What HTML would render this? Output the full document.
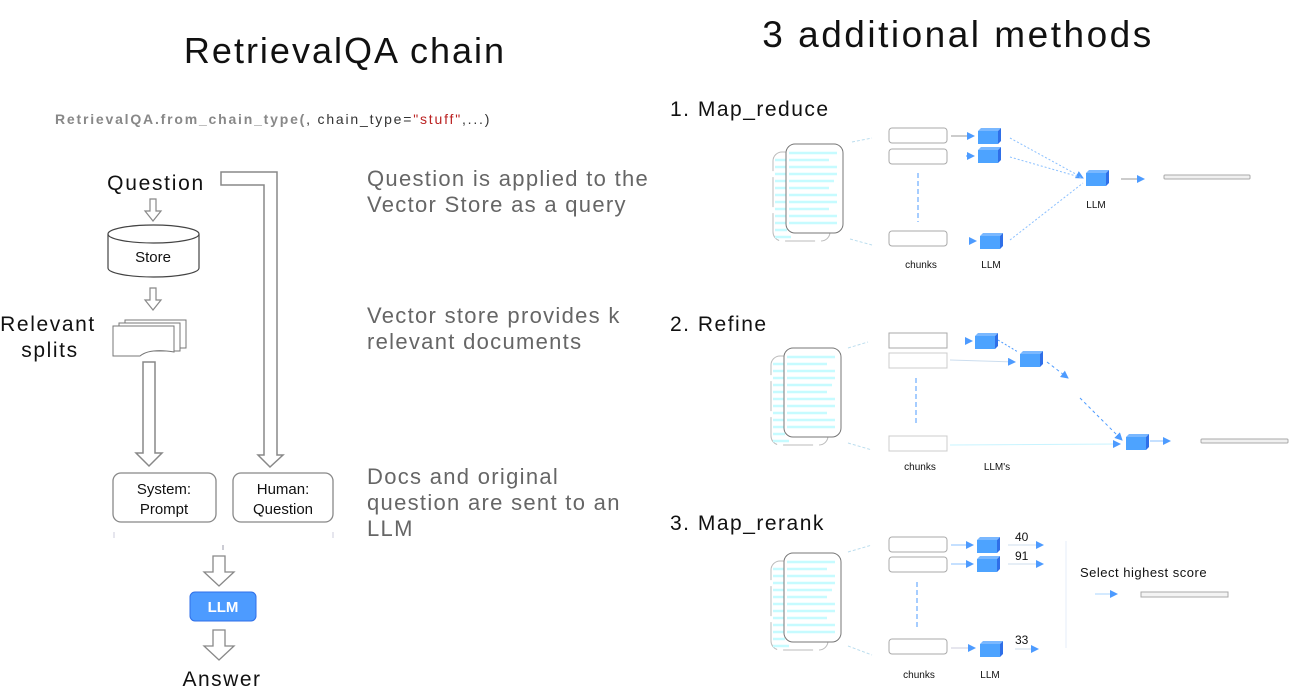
<!DOCTYPE html>
<html><head><meta charset="utf-8"><style>
html,body{margin:0;padding:0;background:#fff;}
svg{display:block;font-family:"Liberation Sans",sans-serif;}
</style></head><body>
<svg width="1294" height="698" viewBox="0 0 1294 698" xmlns="http://www.w3.org/2000/svg">
<defs>
<g id="doc">
  <rect x="0" y="8" width="57" height="89" rx="9" fill="#fff" stroke="#bbb" stroke-width="1" stroke-dasharray="30 6"/>
  <g stroke="#c6fbff" stroke-width="2.5">
    <line x1="2" y1="16" x2="14" y2="16"/><line x1="2" y1="23" x2="14" y2="23"/><line x1="2" y1="30" x2="14" y2="30"/><line x1="2" y1="37" x2="14" y2="37"/><line x1="2" y1="44" x2="14" y2="44"/><line x1="2" y1="51" x2="14" y2="51"/><line x1="2" y1="58" x2="14" y2="58"/><line x1="2" y1="65" x2="14" y2="65"/><line x1="2" y1="72" x2="14" y2="72"/><line x1="2" y1="79" x2="14" y2="79"/><line x1="2" y1="86" x2="14" y2="86"/><line x1="2" y1="93" x2="18" y2="93"/>
  </g>
  <rect x="13" y="0" width="57" height="89" rx="9" fill="#fff" stroke="#777" stroke-width="1"/>
  <g stroke="#c6fbff" stroke-width="2.5">
    <line x1="16" y1="9" x2="64" y2="9"/><line x1="16" y1="16" x2="56" y2="16"/><line x1="16" y1="23" x2="64" y2="23"/><line x1="16" y1="30" x2="64" y2="30"/><line x1="16" y1="37" x2="61" y2="37"/><line x1="16" y1="44" x2="56" y2="44"/><line x1="16" y1="51" x2="64" y2="51"/><line x1="16" y1="58" x2="64" y2="58"/><line x1="16" y1="65" x2="56" y2="65"/><line x1="16" y1="72" x2="64" y2="72"/><line x1="16" y1="79" x2="64" y2="79"/>
  </g>
</g>
<g id="cube">
  <polygon points="0,3 3,0 23,0 20,3" fill="#7ab8ff"/>
  <polygon points="20,3 23,0 23,13 20,16" fill="#2f6fe8"/>
  <rect x="0" y="3" width="20" height="13" fill="#4da3ff"/>
</g>
<g id="chunk"><rect x="0" y="0" width="58" height="15" rx="3" fill="#fff" stroke="#aaa"/></g>
<marker id="ah" markerWidth="8" markerHeight="8" refX="7" refY="4" orient="auto" markerUnits="userSpaceOnUse"><path d="M0,0 L8,4 L0,8z" fill="#4d9bff"/></marker>
</defs>

<!-- Titles -->
<text x="345" y="63" font-size="36" letter-spacing="2" text-anchor="middle" fill="#111">RetrievalQA chain</text>
<text x="958" y="47" font-size="37" letter-spacing="2.5" text-anchor="middle" fill="#111">3 additional methods</text>

<text x="55" y="124" font-size="14" letter-spacing="1.8"><tspan font-weight="bold" fill="#888">RetrievalQA.from_chain_type(</tspan><tspan fill="#333">, chain_type=</tspan><tspan fill="#b22">"stuff"</tspan><tspan fill="#333">,...)</tspan></text>

<!-- Left flow -->
<text x="156" y="190" font-size="21" letter-spacing="1.7" text-anchor="middle" fill="#111">Question</text>
<path d="M221,172 L277,172 L277,455 L283,455 L270,467 L258,455 L264,455 L264,185 L221,185 Z" fill="#fff" stroke="#888" stroke-width="1.5"/>
<path d="M150,199 L156,199 L156,211 L161,211 L153,221 L145,211 L150,211 Z" fill="#fff" stroke="#888" stroke-width="1.2"/>
<path d="M108,234 L108,268 A45.5,9 0 0 0 199,268 L199,234" fill="#fff" stroke="#444" stroke-width="1.2"/>
<ellipse cx="153.5" cy="234" rx="45.5" ry="9" fill="#fff" stroke="#444" stroke-width="1.2"/>
<text x="153" y="262" font-size="15" text-anchor="middle" fill="#111">Store</text>
<path d="M150,288 L156,288 L156,300 L161,300 L153,310 L145,300 L150,300 Z" fill="#fff" stroke="#888" stroke-width="1.2"/>
<path d="M125,320 L186,320 L186,348 L125,348Z" fill="#fff" stroke="#777"/>
<path d="M119,323 L180,323 L180,351 L119,351Z" fill="#fff" stroke="#777"/>
<path d="M113,326 L174,326 L174,352 Q150,348 140,356 L113,356Z" fill="#fff" stroke="#777"/>
<text x="48" y="331" font-size="21" letter-spacing="1.6" text-anchor="middle" fill="#111">Relevant</text>
<text x="50" y="357" font-size="21" letter-spacing="1.6" text-anchor="middle" fill="#111">splits</text>
<path d="M143,362 L155,362 L155,453 L162,453 L149,466 L136,453 L143,453 Z" fill="#fff" stroke="#888" stroke-width="1.5"/>
<rect x="113" y="473" width="103" height="49" rx="8" fill="#fff" stroke="#888" stroke-width="1.3"/>
<text x="164" y="494" font-size="15" text-anchor="middle" fill="#111">System:</text>
<text x="164" y="514" font-size="15" text-anchor="middle" fill="#111">Prompt</text>
<rect x="233" y="473" width="100" height="49" rx="8" fill="#fff" stroke="#888" stroke-width="1.3"/>
<text x="283" y="494" font-size="15" text-anchor="middle" fill="#111">Human:</text>
<text x="283" y="514" font-size="15" text-anchor="middle" fill="#111">Question</text>
<line x1="114" y1="532" x2="114" y2="538" stroke="#ccd" /><line x1="333" y1="532" x2="333" y2="538" stroke="#ccd"/><line x1="223" y1="545" x2="223" y2="550" stroke="#99a"/>
<path d="M213,556 L225,556 L225,572 L234,572 L219,586 L204,572 L213,572 Z" fill="#fff" stroke="#888" stroke-width="1.3"/>
<rect x="190" y="592" width="66" height="29" rx="5" fill="#4d9bff" stroke="#2f6fe8"/>
<text x="223" y="612" font-size="15" font-weight="bold" text-anchor="middle" fill="#fff">LLM</text>
<path d="M213,630 L225,630 L225,646 L234,646 L219,660 L204,646 L213,646 Z" fill="#fff" stroke="#888" stroke-width="1.3"/>
<text x="222" y="686" font-size="21" letter-spacing="1.5" text-anchor="middle" fill="#111">Answer</text>

<!-- Middle descriptions -->
<g font-size="22" letter-spacing="1.3" fill="#666">
<text x="367" y="186">Question is applied to the</text>
<text x="367" y="212">Vector Store as a query</text>
<text x="367" y="323">Vector store provides k</text>
<text x="367" y="349">relevant documents</text>
<text x="367" y="484">Docs and original</text>
<text x="367" y="510">question are sent to an</text>
<text x="367" y="536">LLM</text>
</g>

<!-- Right headings -->
<g font-size="21" letter-spacing="1.5" fill="#111">
<text x="670" y="116">1. Map_reduce</text>
<text x="670" y="331">2. Refine</text>
<text x="670" y="530">3. Map_rerank</text>
</g>

<!-- Map reduce -->
<use href="#doc" x="773" y="144"/>
<line x1="852" y1="142" x2="872" y2="138" stroke="#bde" stroke-dasharray="3 2"/>
<line x1="850" y1="239" x2="872" y2="245" stroke="#bde" stroke-dasharray="3 2"/>
<use href="#chunk" x="889" y="128"/>
<use href="#chunk" x="889" y="149"/>
<use href="#chunk" x="889" y="231"/>
<line x1="918" y1="173" x2="918" y2="222" stroke="#4d9bff" stroke-dasharray="5 3"/>
<line x1="951" y1="136" x2="974" y2="136" stroke="#999" marker-end="url(#ah)"/>
<line x1="966" y1="156" x2="974" y2="156" stroke="#4d9bff" marker-end="url(#ah)"/>
<line x1="970" y1="241" x2="976" y2="241" stroke="#4d9bff" marker-end="url(#ah)"/>
<use href="#cube" x="978" y="128"/>
<use href="#cube" x="978" y="147"/>
<use href="#cube" x="980" y="233"/>
<g stroke="#8bc0ff" stroke-dasharray="2 2"><line x1="1010" y1="138" x2="1083" y2="178" marker-end="url(#ah)"/><line x1="1010" y1="157" x2="1083" y2="178"/><line x1="1010" y1="240" x2="1083" y2="183"/></g>
<use href="#cube" x="1086" y="170"/>
<text x="1096" y="208" font-size="10" text-anchor="middle" fill="#111">LLM</text>
<line x1="1121" y1="179" x2="1144" y2="179" stroke="#999" marker-end="url(#ah)"/>
<rect x="1164" y="175" width="86" height="4" rx="1" fill="#f0f0f0" stroke="#aaa"/>
<text x="921" y="268" font-size="10" text-anchor="middle" fill="#111">chunks</text>
<text x="991" y="268" font-size="10" text-anchor="middle" fill="#111">LLM</text>

<!-- Refine -->
<use href="#doc" x="771" y="348"/>
<line x1="848" y1="348" x2="868" y2="342" stroke="#bde" stroke-dasharray="3 2"/>
<line x1="848" y1="443" x2="872" y2="450" stroke="#bde" stroke-dasharray="3 2"/>
<rect x="889" y="333" width="58" height="15" fill="#fff" stroke="#aaa"/>
<rect x="889" y="353" width="58" height="15" fill="#fff" stroke="#ccc"/>
<rect x="889" y="436" width="58" height="15" fill="#fff" stroke="#ccc"/>
<line x1="916" y1="378" x2="916" y2="426" stroke="#4d9bff" stroke-dasharray="5 3"/>
<line x1="966" y1="341" x2="972" y2="341" stroke="#4d9bff" marker-end="url(#ah)"/>
<use href="#cube" x="975" y="333"/>
<line x1="950" y1="360" x2="1015" y2="362" stroke="#cde" marker-end="url(#ah)"/>
<line x1="998" y1="340" x2="1018" y2="352" stroke="#4d9bff" stroke-dasharray="2 2"/>
<use href="#cube" x="1020" y="351"/>
<line x1="1047" y1="362" x2="1068" y2="378" stroke="#4d9bff" stroke-dasharray="3 3" marker-end="url(#ah)"/>
<line x1="1080" y1="398" x2="1122" y2="440" stroke="#4d9bff" stroke-dasharray="3 3" marker-end="url(#ah)"/>
<line x1="950" y1="445" x2="1120" y2="444" stroke="#c8f4ff" marker-end="url(#ah)"/>
<use href="#cube" x="1126" y="434"/>
<line x1="1150" y1="441" x2="1170" y2="441" stroke="#8bc0ff" marker-end="url(#ah)"/>
<rect x="1201" y="439" width="87" height="4" rx="1" fill="#f0f0f0" stroke="#aaa"/>
<text x="920" y="470" font-size="10" text-anchor="middle" fill="#111">chunks</text>
<text x="997" y="470" font-size="10" text-anchor="middle" fill="#111">LLM's</text>

<!-- Map rerank -->
<use href="#doc" x="771" y="553"/>
<line x1="848" y1="552" x2="872" y2="545" stroke="#bde" stroke-dasharray="3 2"/>
<line x1="848" y1="646" x2="872" y2="655" stroke="#bde" stroke-dasharray="3 2"/>
<use href="#chunk" x="889" y="537"/>
<use href="#chunk" x="889" y="557"/>
<use href="#chunk" x="889" y="639"/>
<line x1="917" y1="582" x2="917" y2="630" stroke="#4d9bff" stroke-dasharray="5 3"/>
<line x1="951" y1="545" x2="973" y2="545" stroke="#8bc0ff" marker-end="url(#ah)"/>
<line x1="951" y1="564" x2="973" y2="564" stroke="#8bc0ff" marker-end="url(#ah)"/>
<line x1="951" y1="648" x2="975" y2="648" stroke="#ccd" marker-end="url(#ah)"/>
<use href="#cube" x="977" y="537"/>
<use href="#cube" x="977" y="556"/>
<use href="#cube" x="980" y="641"/>
<line x1="1008" y1="545" x2="1043" y2="545" stroke="#cde" marker-end="url(#ah)"/>
<line x1="1008" y1="564" x2="1043" y2="564" stroke="#cde" marker-end="url(#ah)"/>
<line x1="1015" y1="649" x2="1038" y2="649" stroke="#cde" marker-end="url(#ah)"/>
<text x="1015" y="541" font-size="12" fill="#111">40</text>
<text x="1015" y="560" font-size="12" fill="#111">91</text>
<text x="1015" y="644" font-size="12" fill="#111">33</text>
<line x1="1066" y1="541" x2="1066" y2="648" stroke="#e4eef8"/>
<text x="1080" y="577" font-size="13" letter-spacing="0.5" fill="#111">Select highest score</text>
<line x1="1095" y1="594" x2="1117" y2="594" stroke="#aad4ff" marker-end="url(#ah)"/>
<rect x="1141" y="592" width="87" height="5" fill="#f4f4f4" stroke="#aaa"/>
<text x="919" y="678" font-size="10" text-anchor="middle" fill="#111">chunks</text>
<text x="990" y="678" font-size="10" text-anchor="middle" fill="#111">LLM</text>
</svg>
</body></html>
